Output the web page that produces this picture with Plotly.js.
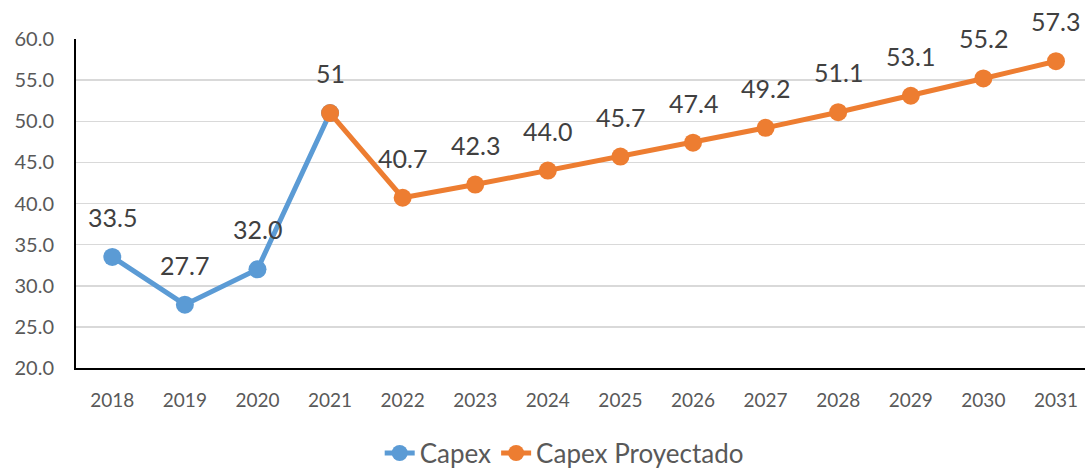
<!DOCTYPE html>
<html>
<head>
<meta charset="utf-8">
<script src="https://cdn.plot.ly/plotly-3.0.1.min.js"></script>
<style>html,body{margin:0;padding:0;background:#fff;overflow:hidden;}#chart{width:1085px;height:472px;}</style>
</head>
<body>
<div id="chart"></div>
<script>
const years = ['2018','2019','2020','2021','2022','2023','2024','2025','2026','2027','2028','2029','2030','2031'];
const capexYears = ['2018','2019','2020','2021'];
const capexValues = [33.5, 27.7, 32.0, 51];
const capexLabels = ['33.5','27.7','32.0','51'];
const projYears = ['2021','2022','2023','2024','2025','2026','2027','2028','2029','2030','2031'];
const projValues = [51, 40.7, 42.3, 44.0, 45.7, 47.4, 49.2, 51.1, 53.1, 55.2, 57.3];
const projLabels = ['', '40.7','42.3','44.0','45.7','47.4','49.2','51.1','53.1','55.2','57.3'];
const yTicks = [20,25,30,35,40,45,50,55,60];

const blue = '#5B9BD5', orange = '#ED7D31';
const font = 'Lato, "Open Sans", sans-serif';

const traces = [
  {x: capexYears, y: capexValues, name: 'Capex', type: 'scatter', mode: 'lines+markers',
   line: {color: blue, width: 5}, marker: {color: blue, size: 18}, cliponaxis: false},
  {x: projYears, y: projValues, name: 'Capex Proyectado', type: 'scatter', mode: 'lines+markers',
   line: {color: orange, width: 5}, marker: {color: orange, size: 18}, cliponaxis: false}
];

const labelFont = {family: font, size: 25, color: '#404040'};
const annotations = [];
capexYears.forEach((yr, i) => {
  if (capexLabels[i]) annotations.push({xref: 'x', yref: 'y', x: years.indexOf(yr), y: capexValues[i], text: capexLabels[i], showarrow: false, yshift: 40, font: labelFont});
});
projYears.forEach((yr, i) => {
  if (projLabels[i]) annotations.push({xref: 'x', yref: 'y', x: years.indexOf(yr), y: projValues[i], text: projLabels[i], showarrow: false, yshift: 40, font: labelFont});
});

const layout = {
  width: 1085, height: 472,
  margin: {l: 76, r: 0, t: 39, b: 104},
  paper_bgcolor: '#fff', plot_bgcolor: '#fff',
  font: {family: font, color: '#595959'},
  showlegend: true,
  legend: {orientation: 'h', x: 0.52, xanchor: 'center', xref: 'container', yref: 'container', y: 0.04, yanchor: 'middle',
    font: {family: font, size: 26, color: '#595959'}, bgcolor: 'rgba(0,0,0,0)'},
  xaxis: {type: 'category', categoryarray: years, range: [-0.5, 13.4], showgrid: false, zeroline: false,
    showline: true, linecolor: '#000', linewidth: 2, ticks: '', ticklabelstandoff: 14,
    tickfont: {family: font, size: 19, color: '#595959'}, fixedrange: true, automargin: false},
  yaxis: {range: [20, 60], tickvals: yTicks, tickformat: '.1f', showgrid: true, gridcolor: '#D9D9D9', gridwidth: 1.5,
    zeroline: false, showline: true, linecolor: '#000', linewidth: 2, ticks: '', ticklabelstandoff: 16,
    tickfont: {family: font, size: 20, color: '#595959'}, fixedrange: true, automargin: false},
  annotations: annotations
};

Plotly.newPlot('chart', traces, layout, {displayModeBar: false, staticPlot: true});
</script>
</body>
</html>
